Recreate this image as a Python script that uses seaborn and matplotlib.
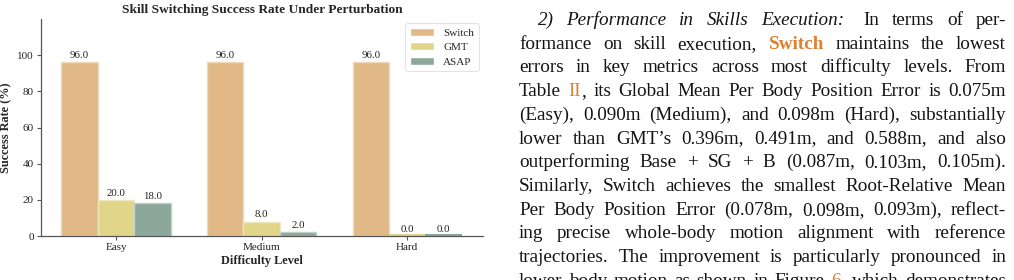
import matplotlib
matplotlib.use("Agg")
import matplotlib.pyplot as plt
import seaborn as sns
import pandas as pd
from matplotlib.transforms import IdentityTransform
from matplotlib.colors import to_rgb

# ---------------- data ----------------
difficulty = ["Easy", "Medium", "Hard"]
methods = ["Switch", "GMT", "ASAP"]
switch_rate = [96.0, 96.0, 96.0]
gmt_rate = [20.0, 8.0, 0.0]
asap_rate = [18.0, 2.0, 0.0]
yticks = [0, 20, 40, 60, 80, 100]
colors = {"Switch": "#E0B987", "GMT": "#E0D588", "ASAP": "#8CA89B"}

paragraph = [
    "*2) Performance in Skills Execution:* In terms of per-",
    "formance on skill execution, #Switch# maintains the lowest",
    "errors in key metrics across most difficulty levels. From",
    "Table ~II~, its Global Mean Per Body Position Error is 0.075m",
    "(Easy), 0.090m (Medium), and 0.098m (Hard), substantially",
    "lower than GMT\u2019s 0.396m, 0.491m, and 0.588m, and also",
    "outperforming Base + SG + B (0.087m, 0.103m, 0.105m).",
    "Similarly, Switch achieves the smallest Root-Relative Mean",
    "Per Body Position Error (0.078m, 0.098m, 0.093m), reflect-",
    "ing precise whole-body motion alignment with reference",
    "trajectories. The improvement is particularly pronounced in",
    "lower body motion as shown in Figure ~6~, which demonstrates",
]

# ---------------- style ----------------
sns.set_style("white")
plt.rcParams["font.family"] = ["Liberation Serif", "DejaVu Serif"]

df = pd.DataFrame({
    "Difficulty Level": difficulty * 3,
    "Method": [m for m in methods for _ in difficulty],
    "Success Rate (%)": switch_rate + gmt_rate + asap_rate,
})

W, H = 1014, 280
fig = plt.figure(figsize=(W / 100, H / 100), dpi=100)
ax = fig.add_axes([41 / W, 1 - 236 / H, (483 - 41) / W, (236 - 19) / H])

sns.barplot(data=df, x="Difficulty Level", y="Success Rate (%)", hue="Method",
            hue_order=methods, palette=colors, width=0.75, saturation=1,
            errorbar=None, ax=ax)


def lighten(c, f=0.45):
    r, g, b = to_rgb(c)
    return (r + (1 - r) * f, g + (1 - g) * f, b + (1 - b) * f)


for cont in ax.containers:
    for p in cont.patches:
        if p.get_height() == 0:
            # zero-height bars show as a thin coloured line on the axis
            p.set_edgecolor(p.get_facecolor())
            p.set_linewidth(3.0)
            p.set_zorder(3)
        else:
            p.set_edgecolor(lighten(p.get_facecolor()))
            p.set_linewidth(1.0)
    ax.bar_label(cont, fmt="%.1f", fontsize=7.8, padding=1.5, color="#222")

ax.set_ylim(0, 120)
ax.set_yticks(yticks)
ax.set_xlim(-0.515, 2.52)
ax.tick_params(axis="both", bottom=True, left=True, length=3, width=0.8,
               color="#555", labelsize=8, labelcolor="#222", pad=2)
ax.set_xlabel("Difficulty Level", fontsize=8.8, fontweight="bold", labelpad=2)
ax.set_ylabel("Success Rate (%)", fontsize=8.8, fontweight="bold", labelpad=4)
ax.set_title("Skill Switching Success Rate Under Perturbation", fontsize=9.6,
             fontweight="bold", pad=4)
sns.despine(ax=ax)
for s in ["left", "bottom"]:
    ax.spines[s].set_color("#555")
    ax.spines[s].set_linewidth(0.9)
    ax.spines[s].set_zorder(4)

leg = ax.legend(loc="upper right", fontsize=8.0, frameon=True, fancybox=True,
                title=None, borderpad=0.4, labelspacing=0.42, handlelength=2.2,
                borderaxespad=0.4)
leg.get_frame().set_edgecolor("#dddddd")
leg.get_frame().set_linewidth(0.8)

# ---------------- justified paragraph on the right ----------------
renderer = fig.canvas.get_renderer()
FS = 13.8
ORANGE = "#E07F2E"
TXT = "#141414"


def parse(line):
    words = []
    state = "n"
    cur = []
    buf = ""
    toggles = {"*": "i", "#": "b", "~": "o"}
    for ch in line:
        if ch in toggles:
            if buf:
                cur.append((buf, state))
                buf = ""
            state = "n" if state == toggles[ch] else toggles[ch]
        elif ch == " ":
            if buf:
                cur.append((buf, state))
                buf = ""
            if cur:
                words.append(cur)
            cur = []
        else:
            buf += ch
    if buf:
        cur.append((buf, state))
    if cur:
        words.append(cur)
    return words


def style_kw(st):
    kw = dict(fontsize=FS, color=TXT, fontfamily=["Liberation Serif", "DejaVu Serif"])
    if st == "i":
        kw["fontstyle"] = "italic"
    elif st == "b":
        kw["fontweight"] = "bold"
        kw["color"] = ORANGE
    elif st == "o":
        kw["color"] = ORANGE
    return kw


x_right = 1006
for i, line in enumerate(paragraph):
    x_left = 538 if i == 0 else 519
    y_base = H - (25 + i * 23.7)
    words = parse(line)
    arts = []
    widths = []
    for w in words:
        wa = []
        ww = 0
        for seg, st in w:
            t = fig.text(0, y_base, seg, transform=IdentityTransform(),
                         ha="left", va="baseline", **style_kw(st))
            ext = t.get_window_extent(renderer)
            wa.append((t, ext.width))
            ww += ext.width
        arts.append(wa)
        widths.append(ww)
    weights = [1.0] * (len(words) - 1)
    if i == 0:
        weights[4] = 1.6  # wider space after the italic run-in heading
    gap = (x_right - x_left - sum(widths)) / sum(weights)
    x = x_left
    for k, wa in enumerate(arts):
        for t, wdt in wa:
            t.set_x(x)
            x += wdt
        if k < len(weights):
            x += gap * weights[k]

fig.savefig("out.png", dpi=100)
